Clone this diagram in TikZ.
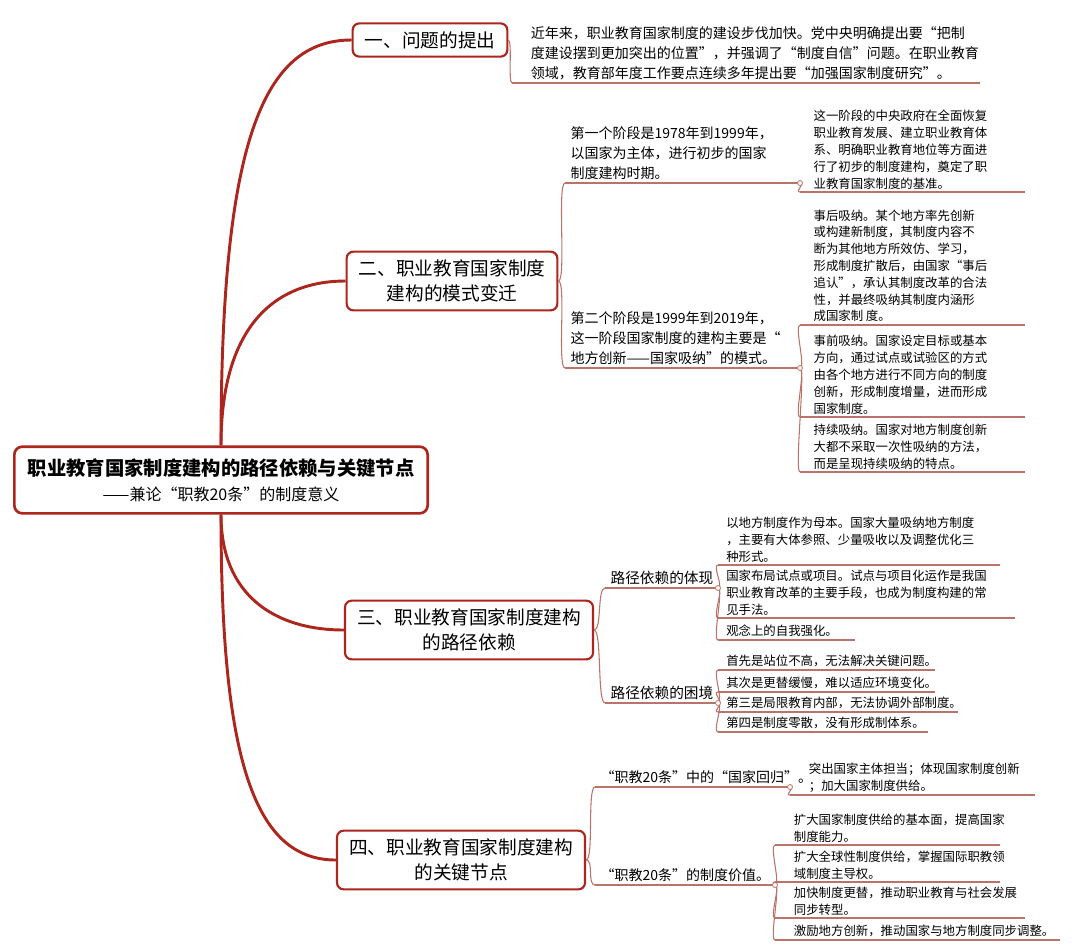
\documentclass[tikz,border=0pt]{standalone}
\usepackage{fontspec}
\setmainfont{Noto Sans CJK SC}
\usetikzlibrary{positioning}
\definecolor{mainred}{RGB}{172,38,30}
\definecolor{thinred}{RGB}{185,115,105}

\begin{document}
\begin{tikzpicture}[x=0.75pt, y=-0.75pt,
  main/.style={draw=mainred, line width=2.2pt},
  branch/.style={draw=mainred, line width=1.6pt, rounded corners=5pt, fill=white,
    align=center, inner xsep=9pt, inner ysep=6pt, font=\fontsize{14}{19}\selectfont},
  sub/.style={anchor=south west, align=left, inner xsep=4pt, inner ysep=2pt,
    font=\fontsize{10.5}{15}\selectfont},
  leaf/.style={anchor=south west, align=left, inner xsep=10pt, inner ysep=2pt,
    font=\fontsize{9.3}{12.6}\selectfont},
  uline/.style={draw=thinred, line width=0.8pt},
  link/.style={draw=thinred, line width=0.8pt},
  joint/.style={draw=thinred, fill=white, line width=0.6pt}]
  \useasboundingbox (0,0) rectangle (1080,950);

  % Root
  \node[draw=mainred, line width=2pt, rounded corners=6pt, align=center,
    minimum width=310pt, minimum height=50pt, font=\fontsize{14.5}{19}\selectfont]
    (root) at (221,480) {\bfseries 职业教育国家制度建构的路径依赖与关键节点\\
    \fontsize{12}{16}\selectfont ——兼论“职教20条”的制度意义};

  % Main branches
  \node[branch] (b1) at (430,40) {一、问题的提出};
  \node[branch] (b2) at (452,281) {二、职业教育国家制度\\建构的模式变迁};
  \node[branch] (b3) at (469,630) {三、职业教育国家制度建构\\的路径依赖};
  \node[branch] (b4) at (461,860) {四、职业教育国家制度建构\\的关键节点};

  \draw[main] (root.north) .. controls +(0,-300) and +(-90,0) .. (b1.west);
  \draw[main] (root.north) .. controls +(0,-120) and +(-70,0) .. (b2.west);
  \draw[main] (root.south) .. controls +(0,80) and +(-70,0) .. (b3.west);
  \draw[main] (root.south) .. controls +(0,250) and +(-80,0) .. (b4.west);

  % Branch 1
  \node[sub, inner xsep=14pt] (t1) at (512,83) {近年来，职业教育国家制度的建设步伐加快。党中央明确提出要“把制\\度建设摆到更加突出的位置”，并强调了“制度自信”问题。在职业教育\\领域，教育部年度工作要点连续多年提出要“加强国家制度研究”。};
  \draw[uline] (t1.south west) -- ++(468,0);
  \draw[link] (b1.east) .. controls +(4,0) and +(-4,0) .. (t1.south west);

  % Branch 2
  \node[sub] (s1) at (565,183) {第一个阶段是1978年到1999年，\\以国家为主体，进行初步的国家\\制度建构时期。};
  \node[sub] (s2) at (565,368) {第二个阶段是1999年到2019年，\\这一阶段国家制度的建构主要是“\\地方创新——国家吸纳”的模式。};
  \draw[uline] (s1.south west) -- ++(235,0) coordinate (s1e);
  \draw[uline] (s2.south west) -- ++(235,0) coordinate (s2e);
  \draw[link] (b2.east) .. controls +(8,0) and +(-8,0) .. (s1.south west);
  \draw[link] (b2.east) .. controls +(8,0) and +(-8,0) .. (s2.south west);

  \node[leaf] (d1) at (800,192) {这一阶段的中央政府在全面恢复\\职业教育发展、建立职业教育体\\系、明确职业教育地位等方面进\\行了初步的制度建构，奠定了职\\业教育国家制度的基准。};
  \node[leaf] (d2) at (800,325) {事后吸纳。某个地方率先创新\\或构建新制度，其制度内容不\\断为其他地方所效仿、学习，\\形成制度扩散后，由国家“事后\\追认”，承认其制度改革的合法\\性，并最终吸纳其制度内涵形\\成国家制 度。};
  \node[leaf] (d3) at (800,417) {事前吸纳。国家设定目标或基本\\方向，通过试点或试验区的方式\\由各个地方进行不同方向的制度\\创新，形成制度增量，进而形成\\国家制度。};
  \node[leaf] (d4) at (800,472) {持续吸纳。国家对地方制度创新\\大都不采取一次性吸纳的方法，\\而是呈现持续吸纳的特点。};
  \foreach \n in {d1,d2,d3,d4}
    \draw[uline] (\n.south west) -- ++(225,0);
  \draw[link] (s1e) .. controls +(6,0) and +(-6,0) .. (d1.south west);
  \foreach \n in {d2,d3,d4}
    \draw[link] (s2e) .. controls +(6,0) and +(-6,0) .. (\n.south west);
  \draw[joint] (s1e) circle (2.5);
  \draw[joint] (s2e) circle (2.5);

  % Branch 3
  \node[sub, font=\fontsize{11}{15}\selectfont] (p1) at (605,588) {路径依赖的体现};
  \node[sub, font=\fontsize{11}{15}\selectfont] (p2) at (605,703) {路径依赖的困境};
  \draw[uline] (p1.south west) -- ++(113,0) coordinate (p1e);
  \draw[uline] (p2.south west) -- ++(113,0) coordinate (p2e);
  \draw[link] (b3.east) .. controls +(8,0) and +(-8,0) .. (p1.south west);
  \draw[link] (b3.east) .. controls +(8,0) and +(-8,0) .. (p2.south west);

  \node[leaf, inner xsep=6pt] (k1) at (718,565) {以地方制度作为母本。国家大量吸纳地方制度\\，主要有大体参照、少量吸收以及调整优化三\\种形式。};
  \node[leaf, inner xsep=6pt] (k2) at (718,618) {国家布局试点或项目。试点与项目化运作是我国\\职业教育改革的主要手段，也成为制度构建的常\\见手法。};
  \node[leaf, inner xsep=6pt] (k3) at (718,640) {观念上的自我强化。};
  \draw[uline] (k1.south west) -- ++(282,0);
  \draw[uline] (k2.south west) -- ++(297,0);
  \draw[uline] (k3.south west) -- ++(137,0);
  \foreach \n in {k1,k2,k3}
    \draw[link] (p1e) .. controls +(6,0) and +(-6,0) .. (\n.south west);

  \node[leaf, inner xsep=6pt] (m1) at (718,670) {首先是站位不高，无法解决关键问题。};
  \node[leaf, inner xsep=6pt] (m2) at (718,692) {其次是更替缓慢，难以适应环境变化。};
  \node[leaf, inner xsep=6pt] (m3) at (718,712) {第三是局限教育内部，无法协调外部制度。};
  \node[leaf, inner xsep=6pt] (m4) at (718,732) {第四是制度零散，没有形成制体系。};
  \draw[uline] (m1.south west) -- ++(217,0);
  \draw[uline] (m2.south west) -- ++(217,0);
  \draw[uline] (m3.south west) -- ++(240,0);
  \draw[uline] (m4.south west) -- ++(210,0);
  \foreach \n in {m1,m2,m3,m4}
    \draw[link] (p2e) .. controls +(6,0) and +(-6,0) .. (\n.south west);
  \draw[joint] (p1e) circle (2.5);
  \draw[joint] (p2e) circle (2.5);

  % Branch 4
  \node[sub] (r1) at (595,787) {“职教20条”中的“国家回归”。};
  \node[sub] (r2) at (595,885) {“职教20条”的制度价值。};
  \draw[uline] (r1.south west) -- ++(195,0) coordinate (r1e);
  \draw[uline] (r2.south west) -- ++(180,0) coordinate (r2e);
  \draw[link] (b4.east) .. controls +(8,0) and +(-8,0) .. (r1.south west);
  \draw[link] (b4.east) .. controls +(8,0) and +(-8,0) .. (r2.south west);

  \node[leaf, inner xsep=14pt] (h1) at (790,795) {突出国家主体担当；体现国家制度创新\\；加大国家制度供给。};
  \draw[uline] (h1.south west) -- ++(245,0);
  \draw[link] (r1e) .. controls +(6,0) and +(-6,0) .. (h1.south west);

  \node[leaf, inner xsep=14pt] (v1) at (775,845) {扩大国家制度供给的基本面，提高国家\\制度能力。};
  \node[leaf, inner xsep=14pt] (v2) at (775,882) {扩大全球性制度供给，掌握国际职教领\\域制度主导权。};
  \node[leaf, inner xsep=14pt] (v3) at (775,918) {加快制度更替，推动职业教育与社会发展\\同步转型。};
  \node[leaf, inner xsep=14pt] (v4) at (775,940) {激励地方创新，推动国家与地方制度同步调整。};
  \draw[uline] (v1.south west) -- ++(225,0);
  \draw[uline] (v2.south west) -- ++(225,0);
  \draw[uline] (v3.south west) -- ++(250,0);
  \draw[uline] (v4.south west) -- ++(285,0);
  \foreach \n in {v1,v2,v3,v4}
    \draw[link] (r2e) .. controls +(6,0) and +(-6,0) .. (\n.south west);
  \draw[joint] (r1e) circle (2.5);
  \draw[joint] (r2e) circle (2.5);
\end{tikzpicture}
\end{document}
